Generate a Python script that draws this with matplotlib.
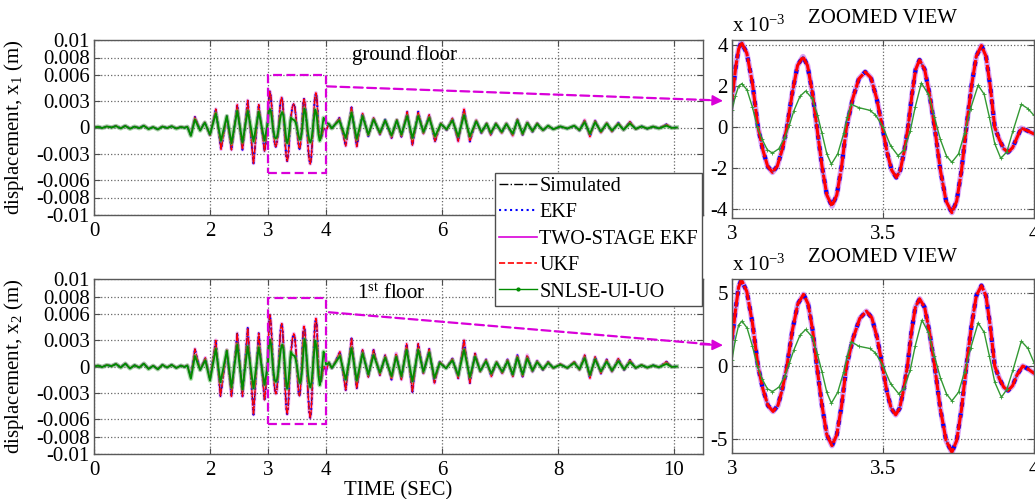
import numpy as np
import matplotlib
matplotlib.use("Agg")
import matplotlib.pyplot as plt
from matplotlib.lines import Line2D
from matplotlib.patches import Rectangle, ConnectionPatch

plt.rcParams['font.family'] = ['Liberation Serif', 'DejaVu Serif']
plt.rcParams['mathtext.fontset'] = 'custom'
plt.rcParams['mathtext.rm'] = 'Liberation Serif'
plt.rcParams['mathtext.it'] = 'Liberation Serif:italic'

# displacement values in units of 1e-3 m, (time [s], value)
# ground floor, simulated response (EKF / two-stage EKF / UKF lie on top of it)
x1_sim = [
    (0.00, 0.00), (0.07, 0.10), (0.14, -0.05), (0.22, 0.12), (0.30, 0.02), (0.38, 0.18),
    (0.46, -0.08), (0.54, 0.20), (0.62, -0.12), (0.70, 0.10), (0.78, -0.05), (0.86, 0.22),
    (0.94, -0.15), (1.02, 0.05), (1.10, -0.20), (1.18, 0.12), (1.26, -0.05), (1.34, 0.15),
    (1.42, -0.10), (1.50, 0.08), (1.56, -0.02), (1.61, 0.10), (1.67, -0.90), (1.74, 1.20),
    (1.83, -0.30), (1.91, 0.60), (2.00, -0.90), (2.10, 2.10), (2.19, -2.50), (2.29, 1.30),
    (2.37, -2.55), (2.47, 2.60), (2.56, -2.55), (2.65, 3.10), (2.75, -4.10), (2.84, 2.60),
    (2.94, -2.70), (2.955, -2.20), (2.972, -1.00), (2.988, 0.00),
    (3.000, 1.30), (3.012, 2.90), (3.022, 3.80), (3.031, 4.13), (3.049, 3.60), (3.068, 2.10),
    (3.086, 0.00), (3.102, -1.10), (3.118, -1.90), (3.134, -2.20), (3.150, -1.90), (3.166, -1.10),
    (3.182, 0.00), (3.200, 1.70), (3.217, 3.00), (3.235, 3.43), (3.250, 3.00), (3.266, 1.70),
    (3.281, 0.00), (3.298, -1.90), (3.314, -3.30), (3.331, -3.84), (3.347, -3.30), (3.363, -1.90),
    (3.379, 0.00), (3.400, 1.40), (3.420, 2.35), (3.441, 2.69), (3.460, 2.40), (3.479, 1.40),
    (3.498, 0.00), (3.513, -1.20), (3.529, -2.10), (3.544, -2.45), (3.557, -2.10), (3.570, -1.20),
    (3.583, 0.00), (3.596, 1.60), (3.608, 2.80), (3.621, 3.27), (3.638, 2.80), (3.654, 1.60),
    (3.671, 0.00), (3.690, -2.10), (3.709, -3.60), (3.728, -4.16), (3.744, -3.60), (3.760, -2.10),
    (3.776, 0.00), (3.793, 2.00), (3.809, 3.45), (3.826, 3.97), (3.841, 3.45), (3.855, 2.00),
    (3.870, 0.00), (3.885, -0.60), (3.900, -1.05), (3.914, -1.22), (3.929, -1.00), (3.944, -0.50),
    (3.958, -0.05), (3.975, -0.15), (4.000, -0.33),
    (4.05, 0.40), (4.10, -0.10), (4.15, 0.30), (4.23, 1.10), (4.34, -2.10), (4.44, 2.30),
    (4.53, -2.20), (4.63, 1.60), (4.73, -1.00), (4.82, 1.10), (4.93, -0.80), (5.02, 0.90),
    (5.13, -1.20), (5.22, 0.90), (5.30, -1.05), (5.40, 1.80), (5.49, -2.00), (5.59, 1.80),
    (5.68, -0.70), (5.78, 1.45), (5.88, -1.60), (5.98, 0.50), (6.08, -0.30), (6.18, 1.05),
    (6.28, -1.60), (6.38, 2.10), (6.48, -1.60), (6.59, 0.85), (6.68, -0.65), (6.77, 0.50),
    (6.84, -0.85), (6.93, 0.50), (7.03, -0.65), (7.11, 0.50), (7.22, -0.95), (7.30, 0.95),
    (7.39, -0.85), (7.47, 0.65), (7.56, -0.50), (7.64, 0.50), (7.74, -0.35), (7.83, 0.20),
    (7.92, -0.20), (8.04, 0.12), (8.16, -0.12), (8.28, 0.20), (8.37, -0.35), (8.46, 0.85),
    (8.55, -1.05), (8.64, 0.78), (8.74, -0.60), (8.84, 0.55), (8.93, -0.48), (9.04, 0.55),
    (9.13, -0.30), (9.24, 0.67), (9.34, -0.20), (9.44, 0.15), (9.54, -0.15), (9.64, 0.12),
    (9.74, -0.10), (9.87, 0.36), (9.96, -0.05), (10.05, 0.00),
]

# ground floor, SNLSE-UI-UO estimate
x1_snl = [
    (0.00, 0.00), (0.07, 0.08), (0.14, -0.06), (0.22, 0.12), (0.30, 0.00), (0.38, 0.16),
    (0.46, -0.10), (0.54, 0.18), (0.62, -0.14), (0.70, 0.10), (0.78, -0.08), (0.86, 0.20),
    (0.94, -0.18), (1.02, 0.05), (1.10, -0.22), (1.18, 0.10), (1.26, -0.06), (1.34, 0.14),
    (1.42, -0.12), (1.50, 0.06), (1.56, -0.04), (1.61, 0.08), (1.67, -0.95), (1.74, 0.90),
    (1.83, -0.35), (1.91, 0.55), (2.00, -0.80), (2.10, 1.60), (2.19, -1.50), (2.29, 1.30),
    (2.37, -1.80), (2.47, 1.90), (2.56, -1.70), (2.65, 1.90), (2.75, -1.60), (2.84, 1.80),
    (2.94, -1.50), (2.97, -0.40),
    (3.000, 0.82), (3.011, 1.50), (3.022, 2.00), (3.033, 2.12), (3.050, 1.80), (3.067, 1.00),
    (3.084, 0.00), (3.100, -0.60), (3.117, -1.10), (3.134, -1.26), (3.155, -1.05), (3.175, -0.50),
    (3.190, 0.10), (3.205, 0.80), (3.225, 1.50), (3.244, 1.76), (3.265, 1.40), (3.283, 0.60),
    (3.298, -0.30), (3.314, -1.30), (3.329, -1.80), (3.350, -1.30), (3.370, -0.30), (3.382, 0.50),
    (3.395, 1.11), (3.420, 0.95), (3.456, 0.82), (3.475, 0.60), (3.500, 0.00), (3.525, -0.90),
    (3.550, -1.39), (3.570, -1.10), (3.590, -0.20), (3.607, 1.00), (3.627, 2.15), (3.650, 1.60),
    (3.670, 0.50), (3.690, -0.60), (3.710, -1.40), (3.728, -1.71), (3.750, -1.30), (3.770, -0.30),
    (3.790, 0.90), (3.815, 2.04), (3.835, 1.60), (3.852, 0.50), (3.870, -0.80), (3.890, -1.52),
    (3.910, -1.20), (3.930, -0.20), (3.958, 1.11), (3.980, 0.90), (4.000, 0.57),
    (4.05, 0.40), (4.10, -0.10), (4.15, 0.30), (4.23, 0.80), (4.34, -1.20), (4.44, 1.70),
    (4.53, -1.30), (4.63, 1.30), (4.73, -0.80), (4.82, 0.90), (4.93, -0.60), (5.02, 0.80),
    (5.13, -0.90), (5.22, 0.80), (5.30, -0.80), (5.40, 1.30), (5.49, -1.20), (5.59, 1.30),
    (5.68, -0.50), (5.78, 1.10), (5.88, -1.00), (5.98, 0.40), (6.08, -0.20), (6.18, 0.80),
    (6.28, -1.00), (6.38, 1.40), (6.48, -1.00), (6.59, 0.70), (6.68, -0.50), (6.77, 0.40),
    (6.84, -0.60), (6.93, 0.40), (7.03, -0.50), (7.11, 0.40), (7.22, -0.70), (7.30, 0.80),
    (7.39, -0.70), (7.47, 0.50), (7.56, -0.40), (7.64, 0.40), (7.74, -0.30), (7.83, 0.20),
    (7.92, -0.20), (8.04, 0.12), (8.16, -0.12), (8.28, 0.20), (8.37, -0.30), (8.46, 0.60),
    (8.55, -0.70), (8.64, 0.60), (8.74, -0.45), (8.84, 0.45), (8.93, -0.35), (9.04, 0.40),
    (9.13, -0.25), (9.24, 0.45), (9.34, -0.15), (9.44, 0.12), (9.54, -0.12), (9.64, 0.10),
    (9.74, -0.10), (9.87, 0.20), (9.96, -0.05), (10.05, 0.00),
]

# 1st floor, simulated response
x2_sim = [
    (0.00, 0.00), (0.07, 0.12), (0.14, -0.05), (0.22, 0.18), (0.30, 0.05), (0.38, 0.30),
    (0.46, -0.10), (0.54, 0.35), (0.62, -0.20), (0.70, 0.15), (0.78, -0.10), (0.86, 0.35),
    (0.94, -0.25), (1.02, 0.10), (1.10, -0.30), (1.18, 0.20), (1.26, -0.10), (1.34, 0.20),
    (1.42, -0.15), (1.50, 0.12), (1.56, -0.05), (1.61, 0.15), (1.67, -1.20), (1.74, 2.00),
    (1.83, -0.40), (1.92, 1.00), (2.00, -1.50), (2.10, 3.00), (2.18, -3.40), (2.29, 1.90),
    (2.37, -3.40), (2.47, 3.80), (2.56, -3.40), (2.65, 4.40), (2.75, -5.50), (2.84, 3.80),
    (2.94, -3.80), (2.955, -3.00), (2.972, -1.40), (2.988, 0.00),
    (3.000, 1.77), (3.012, 3.90), (3.022, 5.40), (3.031, 5.90), (3.049, 5.10), (3.068, 2.90),
    (3.086, 0.00), (3.102, -1.55), (3.119, -2.70), (3.136, -3.11), (3.152, -2.70), (3.167, -1.55),
    (3.182, 0.00), (3.200, 2.45), (3.218, 4.25), (3.237, 4.90), (3.252, 4.25), (3.267, 2.45),
    (3.281, 0.00), (3.298, -2.70), (3.314, -4.70), (3.331, -5.45), (3.347, -4.70), (3.363, -2.70),
    (3.379, 0.00), (3.401, 1.90), (3.423, 3.25), (3.445, 3.75), (3.463, 3.30), (3.481, 1.90),
    (3.498, 0.00), (3.512, -1.65), (3.527, -2.90), (3.542, -3.34), (3.555, -2.90), (3.568, -1.65),
    (3.581, 0.00), (3.594, 2.30), (3.607, 4.00), (3.621, 4.60), (3.638, 4.00), (3.654, 2.30),
    (3.671, 0.00), (3.690, -2.95), (3.709, -5.10), (3.728, -5.90), (3.744, -5.10), (3.760, -2.95),
    (3.776, 0.00), (3.793, 2.75), (3.809, 4.80), (3.826, 5.50), (3.841, 4.80), (3.855, 2.75),
    (3.870, 0.00), (3.885, -0.85), (3.900, -1.45), (3.914, -1.68), (3.929, -1.35), (3.944, -0.60),
    (3.963, 0.00), (3.980, -0.20), (4.000, -0.50),
    (4.05, 0.50), (4.10, -0.20), (4.15, 0.40), (4.24, 1.70), (4.34, -2.70), (4.44, 3.20),
    (4.53, -2.50), (4.63, 1.90), (4.73, -1.20), (4.82, 1.90), (4.93, -1.00), (5.02, 1.30),
    (5.13, -1.50), (5.21, 1.50), (5.30, -1.50), (5.39, 2.60), (5.49, -2.90), (5.59, 2.60),
    (5.68, -0.80), (5.78, 2.00), (5.87, -1.90), (5.96, 0.55), (6.07, -0.20), (6.18, 0.90),
    (6.28, -1.35), (6.38, 3.00), (6.48, -1.90), (6.57, 1.50), (6.66, -0.60), (6.76, 0.80),
    (6.85, -1.15), (6.94, 0.55), (7.04, -0.80), (7.13, 0.80), (7.22, -1.15), (7.30, 1.30),
    (7.39, -1.15), (7.47, 1.30), (7.56, -0.60), (7.64, 0.65), (7.74, -0.40), (7.83, 0.55),
    (7.92, -0.20), (8.04, 0.30), (8.16, -0.20), (8.28, 0.55), (8.37, -0.40), (8.46, 1.30),
    (8.55, -1.35), (8.64, 1.10), (8.74, -0.80), (8.84, 0.80), (8.93, -0.60), (9.04, 0.90),
    (9.14, -0.40), (9.24, 0.75), (9.34, -0.20), (9.44, 0.20), (9.54, -0.15), (9.64, 0.15),
    (9.74, -0.10), (9.87, 0.55), (9.96, -0.05), (10.05, 0.00),
]

# 1st floor, SNLSE-UI-UO estimate
x2_snl = [
    (0.00, 0.00), (0.07, 0.10), (0.14, -0.06), (0.22, 0.16), (0.30, 0.04), (0.38, 0.28),
    (0.46, -0.12), (0.54, 0.32), (0.62, -0.22), (0.70, 0.14), (0.78, -0.12), (0.86, 0.32),
    (0.94, -0.28), (1.02, 0.08), (1.10, -0.32), (1.18, 0.18), (1.26, -0.12), (1.34, 0.18),
    (1.42, -0.16), (1.50, 0.10), (1.56, -0.06), (1.61, 0.12), (1.67, -1.40), (1.74, 1.20),
    (1.83, -0.40), (1.92, 0.70), (2.00, -1.60), (2.10, 2.00), (2.18, -1.80), (2.29, 1.80),
    (2.37, -2.40), (2.47, 2.50), (2.56, -2.60), (2.65, 2.30), (2.75, -2.50), (2.84, 2.20),
    (2.94, -2.10), (2.97, -0.90),
    (3.000, 0.40), (3.011, 1.80), (3.022, 2.80), (3.033, 3.07), (3.050, 2.60), (3.067, 1.40),
    (3.084, 0.00), (3.100, -0.90), (3.117, -1.55), (3.134, -1.75), (3.155, -1.45), (3.175, -0.70),
    (3.190, 0.20), (3.205, 1.10), (3.225, 2.10), (3.244, 2.50), (3.265, 2.00), (3.283, 0.80),
    (3.298, -0.40), (3.314, -1.80), (3.329, -2.55), (3.350, -1.80), (3.370, -0.40), (3.382, 0.70),
    (3.395, 1.66), (3.420, 1.35), (3.456, 1.20), (3.475, 0.90), (3.500, 0.00), (3.525, -1.20),
    (3.552, -1.90), (3.570, -1.50), (3.590, -0.30), (3.607, 1.40), (3.629, 3.14), (3.650, 2.30),
    (3.670, 0.70), (3.690, -0.80), (3.710, -1.90), (3.728, -2.39), (3.750, -1.80), (3.770, -0.40),
    (3.790, 1.20), (3.815, 2.95), (3.835, 2.30), (3.852, 0.70), (3.870, -1.10), (3.892, -2.14),
    (3.910, -1.60), (3.930, -0.30), (3.958, 1.70), (3.980, 1.20), (4.000, 0.23),
    (4.05, 0.40), (4.10, -0.15), (4.15, 0.30), (4.24, 1.20), (4.34, -1.50), (4.44, 2.10),
    (4.53, -1.60), (4.63, 1.50), (4.73, -0.90), (4.82, 1.30), (4.93, -0.70), (5.02, 1.00),
    (5.13, -1.10), (5.21, 1.10), (5.30, -1.10), (5.39, 1.90), (5.49, -1.70), (5.59, 1.90),
    (5.68, -0.60), (5.78, 1.60), (5.87, -1.30), (5.96, 0.40), (6.07, -0.20), (6.18, 0.70),
    (6.28, -1.00), (6.38, 1.90), (6.48, -1.20), (6.57, 1.10), (6.66, -0.50), (6.76, 0.60),
    (6.85, -0.80), (6.94, 0.45), (7.04, -0.60), (7.13, 0.60), (7.22, -0.90), (7.30, 1.00),
    (7.39, -0.90), (7.47, 0.90), (7.56, -0.45), (7.64, 0.50), (7.74, -0.30), (7.83, 0.40),
    (7.92, -0.15), (8.04, 0.20), (8.16, -0.15), (8.28, 0.40), (8.37, -0.30), (8.46, 0.95),
    (8.55, -0.95), (8.64, 0.80), (8.74, -0.55), (8.84, 0.55), (8.93, -0.45), (9.04, 0.60),
    (9.14, -0.30), (9.24, 0.50), (9.34, -0.15), (9.44, 0.15), (9.54, -0.12), (9.64, 0.12),
    (9.74, -0.08), (9.87, 0.30), (9.96, -0.05), (10.05, 0.00),
]

labels = ['Simulated', 'EKF', 'TWO-STAGE EKF', 'UKF', 'SNLSE-UI-UO']
left_yticks = [0.01, 0.008, 0.006, 0.003, 0, -0.003, -0.006, -0.008, -0.01]
left_yticklabels = ['0.01', '0.008', '0.006', '0.003', '0', '-0.003', '-0.006', '-0.008', '-0.01']
left_xticks = [0, 2, 3, 4, 6, 8, 10]

GREEN = (0.0, 0.55, 0.0)
MAG = (0.85, 0.0, 0.85)

W, H = 1035, 499
fig = plt.figure(figsize=(W / 100, H / 100), dpi=100)


def box(l, t, r, b):
    return [l / W, 1 - b / H, (r - l) / W, (b - t) / H]


ax1 = fig.add_axes(box(94, 40, 703, 215))
ax2 = fig.add_axes(box(94, 279, 703, 454))
ax3 = fig.add_axes(box(732, 40, 1034, 218))
ax4 = fig.add_axes(box(732, 279, 1034, 453))


def style(ax):
    ax.tick_params(direction='in', top=True, right=True, labelsize=15, length=4,
                   width=0.8, color='0.3')
    ax.tick_params(axis='x', pad=5)
    ax.tick_params(axis='y', pad=3)
    ax.grid(True, ls=':', color='0.4', lw=0.9)
    for s in ax.spines.values():
        s.set_color('0.35')
        s.set_linewidth(1.0)


def draw_left(ax, sim, snl):
    t, v = np.array(sim).T
    tg, vg = np.array(snl).T
    v = v * 1e-3
    vg = vg * 1e-3
    ax.plot(t, v, color='k', ls='-.', lw=1.0)
    ax.plot(t, v, color=MAG, ls='-', lw=2.6, alpha=0.3)
    ax.plot(t, v, color='b', ls=':', lw=1.4)
    ax.plot(t, v, color='r', lw=0.9, dashes=(6, 1))
    ax.plot(tg, vg, color=(0.3, 0.75, 0.3), lw=3.2, alpha=0.45)
    ax.plot(tg, vg, color=GREEN, lw=1.3)
    ax.set_xlim(0, 10.5)
    ax.set_ylim(-0.01, 0.01)
    ax.set_xticks(left_xticks)
    ax.set_xticklabels([str(x) for x in left_xticks])
    ax.set_yticks(left_yticks)
    ax.set_yticklabels(left_yticklabels)
    style(ax)


def draw_zoom(ax, sim, snl, ylim, yticks):
    t, v = np.array(sim).T
    tg, vg = np.array(snl).T
    ax.plot(t, v, color='k', ls='-.', lw=1.2)
    ax.plot(t, v, color=(0.75, 0.4, 0.95), lw=4.0, alpha=0.6)
    ax.plot(t, v, color='b', ls=':', lw=3.0)
    ax.plot(t, v, color='r', lw=2.2, dashes=(5, 0.6))
    ax.plot(tg, vg, color=(0.2, 0.6, 0.2), lw=1.0, marker='+', ms=2.5, mew=0.6)
    ax.set_xlim(3, 4)
    ax.set_ylim(*ylim)
    ax.set_xticks([3, 3.5, 4])
    ax.set_xticklabels(['3', '3.5', '4'])
    ax.set_yticks(yticks)
    ax.set_yticklabels([str(y) for y in yticks])
    style(ax)
    ax.set_title('ZOOMED VIEW', fontsize=15, pad=12)
    ax.text(0.0, 1.02, r'x 10$^{-3}$', transform=ax.transAxes, fontsize=15,
            ha='left', va='bottom')


draw_left(ax1, x1_sim, x1_snl)
draw_left(ax2, x2_sim, x2_snl)
draw_zoom(ax3, x1_sim, x1_snl, (-4.42, 4.24), [-4, -2, 0, 2, 4])
draw_zoom(ax4, x2_sim, x2_snl, (-5.95, 5.95), [-5, 0, 5])

ax1.set_ylabel(r'displacement, x$_1$ (m)', fontsize=15)
ax1.yaxis.set_label_coords(-0.112, 0.5)
ax2.set_ylabel(r'displacement, x$_2$ (m)', fontsize=15)
ax2.yaxis.set_label_coords(-0.112, 0.5)
ax2.set_xlabel('TIME (SEC)', fontsize=15)
ax2.xaxis.set_label_coords(0.5, -0.155)

ax1.text(4.45, 0.0083, 'ground floor', fontsize=15, ha='left', va='center')
ax2.text(4.53, 0.0083, r'1$^{\mathrm{st}}$ floor', fontsize=15, ha='left', va='center')

# dashed zoom windows
for ax, (y0, y1) in ((ax1, (-0.0052, 0.0060)), (ax2, (-0.0066, 0.0078))):
    ax.add_patch(Rectangle((3.0, y0), 1.0, y1 - y0, fill=False, ec=MAG,
                           ls=(0, (4, 2)), lw=1.6, zorder=6))

# arrows to zoomed views
for axa, pa, axb, pb in ((ax1, (4.02, 0.0047), ax3, (2.955, 1.30)),
                         (ax2, (4.05, 0.0062), ax4, (2.955, 1.44))):
    line = ConnectionPatch(xyA=pa, coordsA=axa.transData, xyB=pb, coordsB=axb.transData,
                           arrowstyle='-', color=MAG, lw=1.6, ls=(0, (4, 2)), zorder=10)
    fig.add_artist(line)
    head = ConnectionPatch(xyA=(pb[0] - 0.06, pb[1] + 0.03),
                           coordsA=axb.transData, xyB=(pb[0] + 0.015, pb[1] - 0.02),
                           coordsB=axb.transData, arrowstyle='-|>', mutation_scale=16,
                           color=MAG, lw=1.2, zorder=10)
    fig.add_artist(head)

handles = [
    Line2D([], [], color='k', ls='-.', lw=1.0),
    Line2D([], [], color='b', ls=':', lw=1.5),
    Line2D([], [], color=MAG, ls='-', lw=1.2),
    Line2D([], [], color='r', ls='--', lw=1.2),
    Line2D([], [], color=GREEN, ls='-', lw=1.0, marker='.', ms=4),
]
leg = fig.legend(handles, labels, loc='upper right', bbox_to_anchor=(702 / W, 1 - 173 / H),
                 fontsize=14.5, frameon=True, fancybox=False, edgecolor='0.3', framealpha=1,
                 borderpad=0.2, handlelength=1.9, handletextpad=0.1, labelspacing=0.36,
                 borderaxespad=0)
leg.get_frame().set_linewidth(1.0)

fig.savefig('out.png', dpi=100)
